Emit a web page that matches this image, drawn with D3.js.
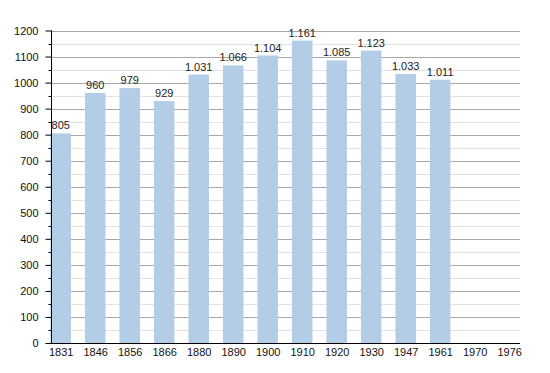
<!DOCTYPE html>
<html>
<head>
<meta charset="utf-8">
<script src="https://cdn.jsdelivr.net/npm/d3@7"></script>
<style>
  body { margin: 0; background: #fff; }
  text { font-family: "Liberation Sans", Arial, sans-serif; }
</style>
</head>
<body>
<div id="chart"></div>
<script>
// population by census year (empty years have no bar)
let years = ["1831", "1846", "1856", "1866", "1880", "1890", "1900", "1910", "1920", "1930", "1947", "1961", "1970", "1976"];
let population = [805, 960, 979, 929, 1031, 1066, 1104, 1161, 1085, 1123, 1033, 1011, null, null];
let yTicks = [0, 100, 200, 300, 400, 500, 600, 700, 800, 900, 1000, 1100, 1200];

let width = 550, height = 373;
let plotLeft = 51, plotRight = 520, plotTop = 30.5, plotBottom = 343;

let svg = d3.select("#chart")
  .append("svg")
  .attr("width", width)
  .attr("height", height);

let yScale = d3.scaleLinear()
  .domain([0, 1200])
  .range([plotBottom, plotTop]);

// centers of the bars
let xScale = d3.scalePoint()
  .domain(years)
  .range([60.7, 509.2]);

let barWidth = 20.5;

// grid lines, light ones every 50, darker every 100
let minor = d3.range(50, 1200, 100);
svg.append("g")
  .selectAll("line")
  .data(minor)
  .enter()
  .append("line")
  .attr("x1", plotLeft + 1).attr("x2", plotRight)
  .attr("y1", d => Math.round(yScale(d)) + 0.5)
  .attr("y2", d => Math.round(yScale(d)) + 0.5)
  .attr("stroke", "#e2e2e2");

svg.append("g")
  .selectAll("line")
  .data(yTicks.slice(1))
  .enter()
  .append("line")
  .attr("x1", plotLeft + 1).attr("x2", plotRight)
  .attr("y1", d => Math.round(yScale(d)) + 0.5)
  .attr("y2", d => Math.round(yScale(d)) + 0.5)
  .attr("stroke", "#a8a8a8");

// bars
let points = years.map((y, i) => [y, population[i]]).filter(d => d[1] != null);

svg.append("g")
  .selectAll("rect")
  .data(points)
  .enter()
  .append("rect")
  .attr("x", d => xScale(d[0]) - barWidth / 2)
  .attr("width", barWidth)
  .attr("y", d => yScale(d[1]))
  .attr("height", d => plotBottom - yScale(d[1]))
  .attr("fill", "#b3cde6");

// value labels, dot as thousands separator
let fmt = d3.formatLocale({ decimal: ",", thousands: ".", grouping: [3], currency: ["", ""] }).format(",d");

svg.append("g")
  .selectAll("text")
  .data(points)
  .enter()
  .append("text")
  .attr("x", d => xScale(d[0]))
  .attr("y", d => yScale(d[1]) - 4)
  .attr("text-anchor", "middle")
  .attr("font-size", "11px")
  .attr("fill", "#222")
  .text(d => fmt(d[1]));

// y axis with minor ticks
let yAxis = d3.axisLeft(yScale)
  .tickValues(yTicks)
  .tickFormat(d3.format("d"))
  .tickSize(6)
  .tickPadding(7);

let yg = svg.append("g")
  .attr("transform", "translate(" + (plotLeft + 0.5) + ",0)")
  .call(yAxis);
yg.select(".domain").attr("d", "M0," + plotTop + "V" + plotBottom).attr("stroke", "#000");
yg.selectAll(".tick text").attr("font-size", "11px").attr("font-family", "Liberation Sans, Arial, sans-serif").attr("fill", "#111");
yg.selectAll(".tick line").attr("stroke", "#000");

yg.append("g")
  .selectAll("line")
  .data(minor)
  .enter()
  .append("line")
  .attr("x1", -3).attr("x2", 0)
  .attr("y1", d => Math.round(yScale(d)) + 0.5)
  .attr("y2", d => Math.round(yScale(d)) + 0.5)
  .attr("stroke", "#000");

// x axis line and labels
let xAxis = d3.axisBottom(xScale)
  .tickSize(0)
  .tickPadding(5);

let xg = svg.append("g")
  .attr("transform", "translate(0," + (plotBottom + 0.5) + ")")
  .call(xAxis);
xg.select(".domain").attr("d", "M" + plotLeft + ",0H" + plotRight).attr("stroke", "#000");
xg.selectAll(".tick text").attr("font-size", "11px").attr("font-family", "Liberation Sans, Arial, sans-serif").attr("fill", "#111");
</script>
</body>
</html>
